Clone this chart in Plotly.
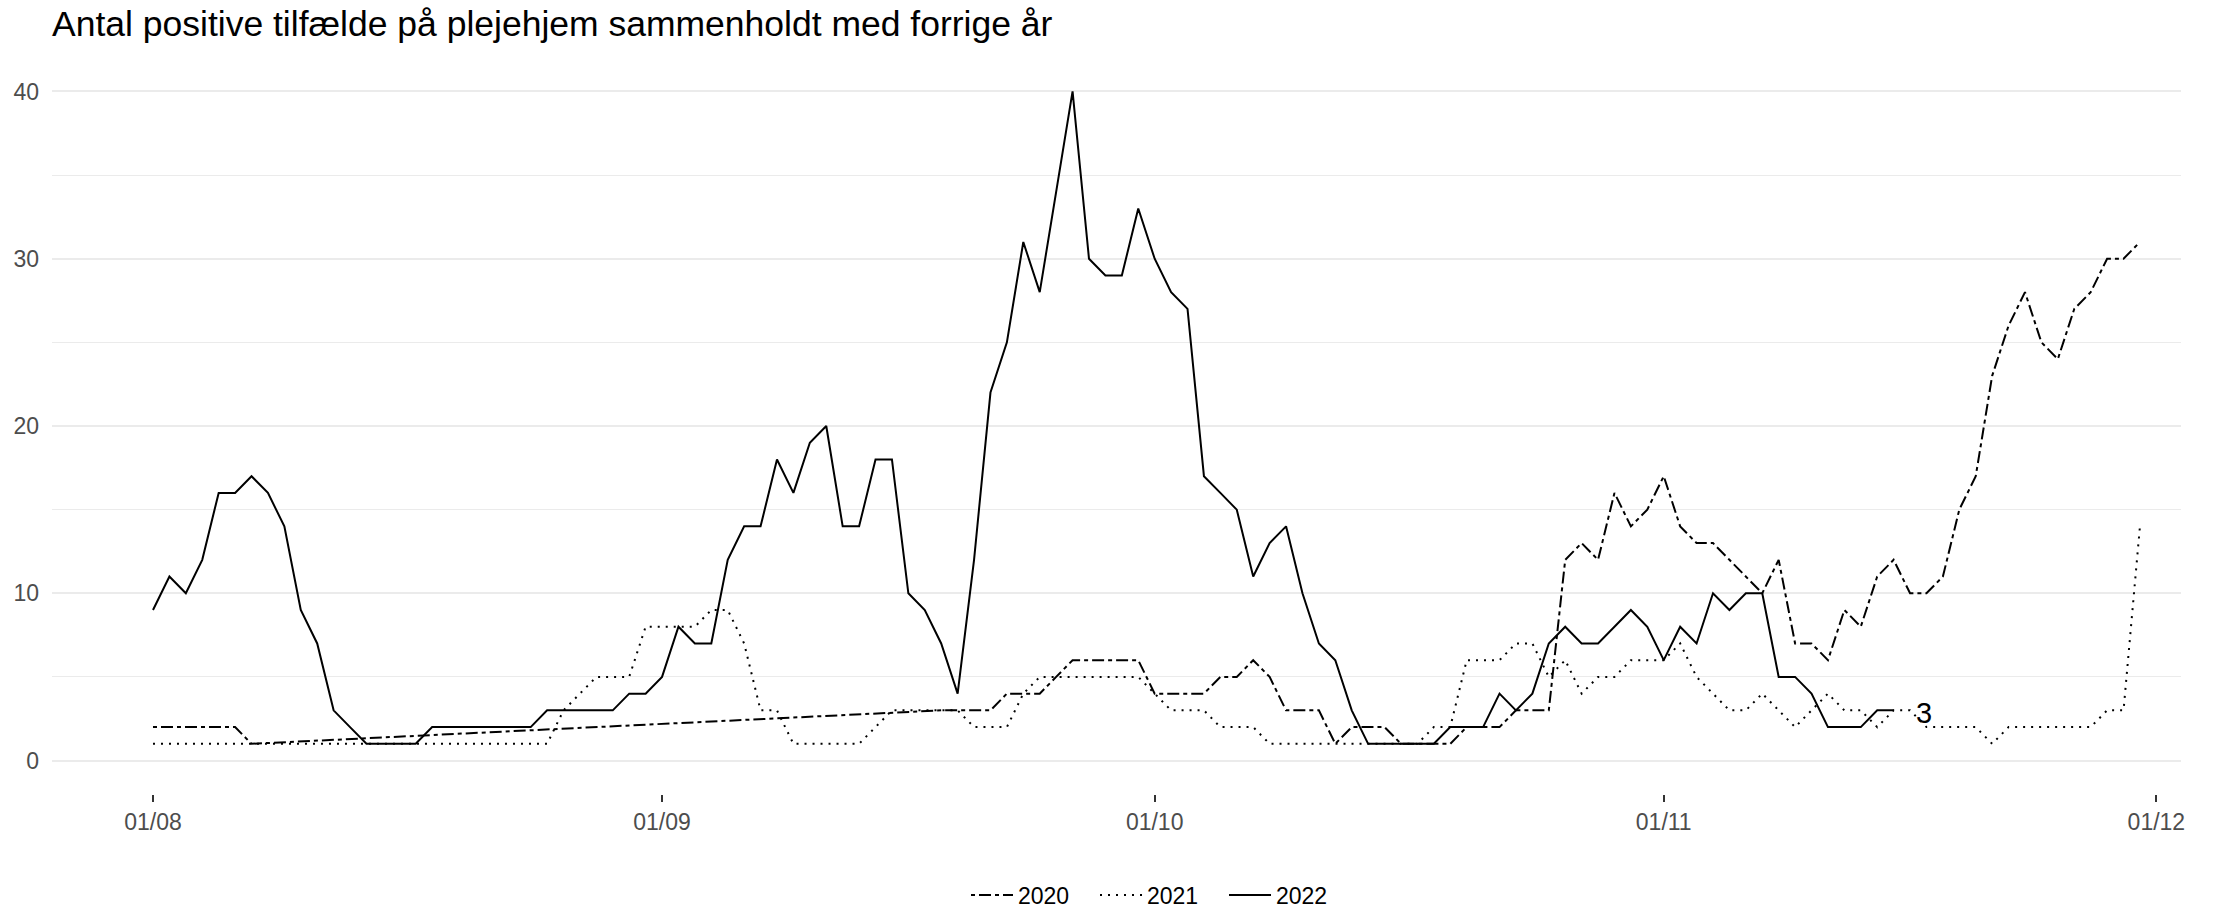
import pandas as pd
import plotly.graph_objects as go

# ---------------- data ----------------
# Common display year for all seasons (x axis shows day/month only)
start_2022 = "2022-08-01"
vals_2022 = [9, 11, 10, 12, 16, 16, 17, 16, 14, 9, 7, 3, 2, 1, 1, 1, 1, 2, 2, 2,
             2, 2, 2, 2, 3, 3, 3, 3, 3, 4, 4, 5, 8, 7, 7, 12, 14, 14, 18, 16,
             19, 20, 14, 14, 18, 18, 10, 9, 7, 4, 12, 22, 25, 31, 28, 34, 40, 30, 29, 29,
             33, 30, 28, 27, 17, 16, 15, 11, 13, 14, 10, 7, 6, 3, 1, 1, 1, 1, 1, 2,
             2, 2, 4, 3, 4, 7, 8, 7, 7, 8, 9, 8, 6, 8, 7, 10, 9, 10, 10, 5,
             5, 4, 2, 2, 2, 3, 3]

start_2021 = "2022-08-01"
vals_2021 = [1, 1, 1, 1, 1, 1, 1, 1, 1, 1, 1, 1, 1, 1, 1, 1, 1, 1, 1, 1,
             1, 1, 1, 1, 1, 3, 4, 5, 5, 5, 8, 8, 8, 8, 9, 9, 7, 3, 3, 1,
             1, 1, 1, 1, 2, 3, 3, 3, 3, 3, 2, 2, 2, 4, 5, 5, 5, 5, 5, 5,
             5, 4, 3, 3, 3, 2, 2, 2, 1, 1, 1, 1, 1, 1, 1, 1, 1, 1, 2, 2,
             6, 6, 6, 7, 7, 5, 6, 4, 5, 5, 6, 6, 6, 7, 5, 4, 3, 3, 4, 3,
             2, 3, 4, 3, 3, 2, 3, 3, 2, 2, 2, 2, 1, 2, 2, 2, 2, 2, 2, 3,
             3, 14]

# 2020 has a gap in the data (7 Aug - 17 Sep), which the line bridges
start_2020_a = "2022-08-01"
vals_2020_a = [2, 2, 2, 2, 2, 2, 1]
start_2020_b = "2022-09-18"
vals_2020_b = [3, 3, 3, 3, 4, 4, 4, 5, 6, 6, 6, 6, 6, 4, 4, 4, 4, 5, 5, 6,
               5, 3, 3, 3, 1, 2, 2, 2, 1, 1, 1, 1, 2, 2, 2, 3, 3, 3, 12, 13,
               12, 16, 14, 15, 17, 14, 13, 13, 12, 11, 10, 12, 7, 7, 6, 9, 8, 11, 12, 10,
               10, 11, 15, 17, 23, 26, 28, 25, 24, 27, 28, 30, 30, 31]

series_names = ["2020", "2021", "2022"]
x_tick_vals = ["2022-08-01", "2022-09-01", "2022-10-01", "2022-11-01", "2022-12-01"]
x_tick_text = ["01/08", "01/09", "01/10", "01/11", "01/12"]
y_tick_vals = [0, 10, 20, 30, 40]
y_minor_vals = [5, 15, 25, 35]
end_label_text = "3"
end_label_x = "2022-11-16 20:00"
title_text = "Antal positive tilfælde på plejehjem sammenholdt med forrige år"

# ---------------- build ----------------
x_2022 = pd.date_range(start_2022, periods=len(vals_2022), freq="D")
x_2021 = pd.date_range(start_2021, periods=len(vals_2021), freq="D")
x_2020 = list(pd.date_range(start_2020_a, periods=len(vals_2020_a), freq="D")) + \
         list(pd.date_range(start_2020_b, periods=len(vals_2020_b), freq="D"))
y_2020 = vals_2020_a + vals_2020_b

FONT = "Liberation Sans, Arial, Helvetica, sans-serif"
LW = 2
W, H = 2221, 911

fig = go.Figure()
fig.add_trace(go.Scatter(x=x_2020, y=y_2020, mode="lines", name=series_names[0],
                         line=dict(color="black", width=LW, dash="4px,4px,12px,4px")))
fig.add_trace(go.Scatter(x=x_2021, y=vals_2021, mode="lines", name=series_names[1],
                         line=dict(color="black", width=LW, dash="2px,6px")))
fig.add_trace(go.Scatter(x=x_2022, y=vals_2022, mode="lines", name=series_names[2],
                         line=dict(color="black", width=LW)))

fig.add_annotation(x=end_label_x, y=vals_2022[-1], text=end_label_text, showarrow=False,
                   xanchor="center", yanchor="middle", yshift=-3,
                   font=dict(family=FONT, size=29, color="black"))

fig.update_layout(
    width=W, height=H,
    margin=dict(l=52, r=40, t=58, b=117, pad=0, autoexpand=False),
    paper_bgcolor="white", plot_bgcolor="white",
    font=dict(family=FONT, color="black"),
    title=dict(text=title_text, x=52 / W, xref="container", xanchor="left",
               y=1 - 24 / H, yref="container", yanchor="middle",
               font=dict(family=FONT, size=35.5, color="black")),
    showlegend=True,
    legend=dict(orientation="h", xref="container", yref="container",
                x=966 / W, xanchor="left", y=(H - 895) / H, yanchor="middle",
                font=dict(family=FONT, size=23, color="black"),
                bgcolor="rgba(0,0,0,0)", itemwidth=42,
                entrywidth=72, entrywidthmode="pixels"),
)

fig.update_xaxes(
    type="date",
    range=["2022-07-25 20:24", "2022-12-02 12:00"],
    tickvals=x_tick_vals, ticktext=x_tick_text,
    showgrid=False, zeroline=False, showline=False,
    ticks="outside", ticklen=7, tickwidth=2, tickcolor="#333333",
    tickfont=dict(family=FONT, size=23, color="#4D4D4D"),
    automargin=False,
)
fig.update_yaxes(
    range=[-2, 42],
    tickvals=y_tick_vals,
    showgrid=True, gridcolor="#EBEBEB", gridwidth=2,
    zeroline=False, showline=False, ticks="",
    ticklabelstandoff=12,
    tickfont=dict(family=FONT, size=23, color="#4D4D4D"),
    minor=dict(tickvals=y_minor_vals, showgrid=True, gridcolor="#EBEBEB", gridwidth=1),
    automargin=False,
)

fig.write_html("out.html", config={"displayModeBar": False},
               post_script="document.body.style.margin='0';document.body.style.overflow='hidden';")
